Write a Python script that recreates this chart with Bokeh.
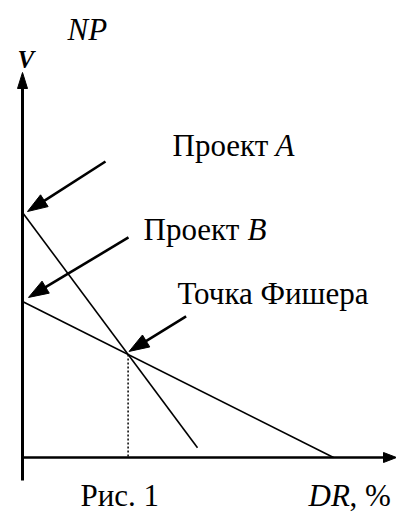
import math
from bokeh.plotting import figure
from bokeh.models import Range1d
from bokeh.core.properties import value
from bokeh.embed import file_html
from bokeh.resources import INLINE

# ---------------- data ----------------
projects = ["A", "B"]
npv_at_zero = [100.0, 63.7]     # NPV at DR = 0 %
dr_end = [17.5, 31.1]           # DR (%) where each drawn line ends
npv_end = [4.0, 0.0]            # NPV at that end

project_labels = ["Проект ", "Проект "]
fisher_label = "Точка Фишера"
caption = "Рис. 1"
x_title_italic = "DR"
x_title_rest = ", %"
y_title_top = "NP"
y_title_v = "V"

# ---------------- layout ----------------
W, H = 396, 514
OX, OY = 22.0, 457.0      # page pixel of the data origin
SX, SY = 10.0, 2.45       # pixels per % and per NPV unit
FONT = "Liberation Serif"
TEXT_SHIFT = 11.0         # svg text baseline correction (px)


def dx(px):
    return (px - OX) / SX


def dy(py):
    return (OY - py) / SY


def px(x):
    return OX + x * SX


def py(y):
    return OY - y * SY


p = figure(width=W, height=H, output_backend="svg", toolbar_location=None,
           x_range=Range1d(dx(0), dx(W)), y_range=Range1d(dy(H), dy(0)),
           x_axis_type=None, y_axis_type=None, min_border=0,
           styles={"position": "absolute", "left": "0px", "top": "0px"})
p.grid.visible = False
p.outline_line_color = None
p.background_fill_color = "white"
p.border_fill_color = "white"


def arrow(tail, tip, head_len, head_w, lw):
    tx, ty = tail
    hx, hy = tip
    ddx, ddy = hx - tx, hy - ty
    L = math.hypot(ddx, ddy)
    ux, uy = ddx / L, ddy / L
    bx, by = hx - ux * head_len * 0.85, hy - uy * head_len * 0.85
    cx, cy = hx - ux * head_len, hy - uy * head_len
    nx, ny = -uy, ux
    pts = [(hx, hy), (cx + nx * head_w / 2, cy + ny * head_w / 2),
           (cx - nx * head_w / 2, cy - ny * head_w / 2)]
    p.segment(x0=[dx(tx)], y0=[dy(ty)], x1=[dx(bx)], y1=[dy(by)],
              line_width=lw, line_color="black")
    p.patch([dx(a) for a, _ in pts], [dy(b) for _, b in pts],
            fill_color="black", line_color="black", line_width=1)


# axes
arrow((px(0), 480), (px(0), 72), 16, 10, 3)
arrow((px(0) - 1, py(0)), (396, py(0)), 13, 10, 2.5)

# project lines
for i in range(len(projects)):
    p.line(x=[0, dr_end[i]], y=[npv_at_zero[i], npv_end[i]],
           line_color="black", line_width=1.6)

# Fisher point: intersection of the two lines
sa = (npv_end[0] - npv_at_zero[0]) / dr_end[0]
sb = (npv_end[1] - npv_at_zero[1]) / dr_end[1]
fx = (npv_at_zero[1] - npv_at_zero[0]) / (sa - sb)
fy = npv_at_zero[0] + sa * fx
p.segment(x0=[fx], y0=[fy], x1=[fx], y1=[0], line_color="black",
          line_width=1.5, line_dash="2 2")

# pointer arrows
ta = (px(0) + 5, py(npv_at_zero[0]) - 1)
arrow((ta[0] + 78, ta[1] - 50), ta, 20, 14, 2.6)
tb = (px(0) + 6, py(npv_at_zero[1]) - 4)
arrow((tb[0] + 100, tb[1] - 60), tb, 20, 14, 2.6)
tf = (px(fx) + 1, py(fy) - 3)
arrow((tf[0] + 57, tf[1] - 35), tf, 20, 14, 2.6)


def txt(x, y, s, size="31px", style="normal"):
    p.text(x=[dx(x)], y=[dy(y - TEXT_SHIFT)], text=[s], text_font=value(FONT),
           text_font_size=value(size), text_font_style=value(style),
           text_baseline="alphabetic", text_align="left", text_color="black")


txt(67, 40, y_title_top, style="italic")
txt(17, 70, y_title_v, size="25px", style="bold italic")
txt(172, 156, project_labels[0])
txt(275, 156, projects[0], style="italic")
txt(143, 240, project_labels[1])
txt(247, 240, projects[1], style="italic")
txt(177, 304, fisher_label)
txt(80, 506, caption)
txt(308, 506, x_title_italic, style="italic")
txt(349, 506, x_title_rest)

open("out.html", "w").write(file_html(p, INLINE))
